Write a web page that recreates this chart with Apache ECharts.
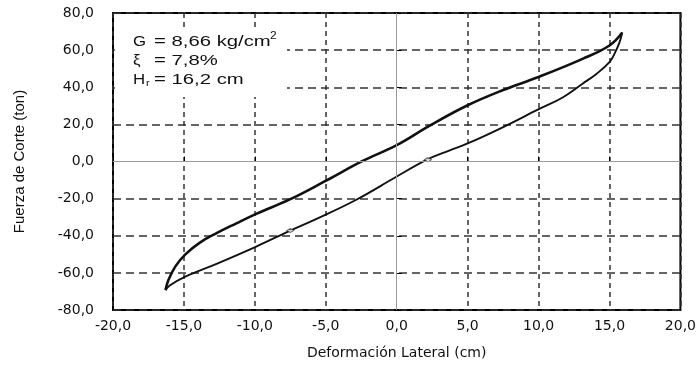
<!DOCTYPE html>
<html>
<head>
<meta charset="utf-8">
<script src="https://cdn.jsdelivr.net/npm/echarts@6/dist/echarts.min.js"></script>
<style>
  html, body { margin: 0; padding: 0; background: #fff; }
  #chart { width: 699px; height: 369px; }
</style>
</head>
<body>
<div id="chart"></div>
<script>
// ramas del lazo de histéresis (cm, ton)
var ramaSupX = [-16.3, -16.1, -15.6, -14.9, -13.9, -12.7, -11.3, -9.9, -7.5, -4.95, -2.4, 0, 2.3, 5.0, 7.5, 9.95, 13.1, 15.0, 15.9];
var ramaSupY = [-69.3, -64.0, -56.5, -50.0, -43.8, -38.6, -33.3, -28.2, -20.3, -10.2, 0.3, 8.8, 19.2, 30.3, 38.5, 45.4, 55.3, 62.5, 69.5];
var ramaInfX = [15.9, 15.7, 15.35, 15.0, 14.1, 13.1, 11.7, 9.95, 7.25, 5.0, 3.7, 2.1, 0, -2.85, -5.65, -7.5, -9.9, -12.7, -14.9, -16.0, -16.3];
var ramaInfY = [69.5, 64.0, 58.0, 53.5, 47.3, 41.9, 34.5, 27.9, 17.6, 9.7, 5.9, 0.9, -8.1, -20.6, -30.9, -37.2, -45.8, -55.1, -62.0, -66.8, -69.3];
// marcadores pequeños
var marcaX = [-7.5, 2.2];
var marcaY = [-37.2, 1.0];

function pares(xs, ys) {
	var out = [];
	for (var i = 0; i < xs.length; i++) {
		out.push([xs[i], ys[i]]);
	}
	return out;
}

function fmt(v) {
	return v.toFixed(1).replace('.', ',');
}

// el 0 se dibuja aparte, en gris continuo
var gridColors = ['#333', '#333', '#333', '#333', 'transparent', '#333', '#333', '#333', '#333'];

function texto(x, y, t, size, sx) {
	return {
		type: 'text', z: 51, x: x, y: y, scaleX: sx,
		style: { text: t, fontFamily: 'Liberation Sans', fontSize: size, fill: '#111', verticalAlign: 'middle' }
	};
}

var myChart = echarts.init(document.getElementById('chart'));
var option = {
	animation: false,
	grid: {
		left: 113, right: 18, top: 13, bottom: 59,
		show: true,
		borderColor: '#000',
		borderWidth: 2
	},
	xAxis: {
		type: 'value',
		min: -20, max: 20, interval: 5,
		name: 'Deformación Lateral (cm)',
		nameLocation: 'middle',
		nameGap: 36,
		nameTextStyle: { fontFamily: 'DejaVu Sans', fontSize: 14, color: '#111' },
		axisLine: { show: false },
		axisTick: { show: true, inside: true, length: 5, lineStyle: { color: '#000' } },
		axisLabel: { formatter: fmt, margin: 9, fontFamily: 'DejaVu Sans', fontSize: 14, color: '#111' },
		splitLine: { show: true, lineStyle: { color: gridColors, width: 1.5, type: [5, 4] } }
	},
	yAxis: {
		type: 'value',
		min: -80, max: 80, interval: 20,
		name: 'Fuerza de Corte (ton)',
		nameLocation: 'middle',
		nameGap: 86,
		nameTextStyle: { fontFamily: 'Liberation Sans', fontSize: 15, color: '#111' },
		axisLine: { show: false },
		axisTick: { show: true, inside: true, length: 5, lineStyle: { color: '#000' } },
		axisLabel: { formatter: fmt, margin: 19, fontFamily: 'DejaVu Sans', fontSize: 14, color: '#111' },
		splitLine: { show: true, lineStyle: { color: gridColors, width: 1.5, type: [8, 5] } }
	},
	graphic: [
		{ type: 'rect', z: 50, shape: { x: 115, y: 29, width: 172, height: 68 }, style: { fill: '#fff' } },
		texto(133, 42, 'G', 14, 1.2),
		texto(154, 42, '= 8,66 kg/cm', 14, 1.45),
		texto(270, 36, '2', 10, 1.2),
		texto(133, 61, 'ξ', 14, 1.2),
		texto(154, 61, '= 7,8%', 14, 1.45),
		texto(133, 80, 'H', 14, 1.2),
		texto(146, 84, 'r', 9, 1.2),
		texto(154, 80, '= 16,2 cm', 14, 1.45)
	],
	series: [
		{
			name: 'rama superior',
			type: 'line',
			data: pares(ramaSupX, ramaSupY),
			smooth: 0.4,
			showSymbol: false,
			lineStyle: { color: '#111', width: 2.6 },
			markLine: {
				silent: true,
				symbol: 'none',
				label: { show: false },
				lineStyle: { color: '#999', width: 1, type: 'solid' },
				data: [{ xAxis: 0 }, { yAxis: 0 }]
			},
			z: 3
		},
		{
			name: 'rama inferior',
			type: 'line',
			data: pares(ramaInfX, ramaInfY),
			smooth: 0.4,
			showSymbol: false,
			lineStyle: { color: '#111', width: 1.9 },
			z: 3
		},
		{
			name: 'marcas',
			type: 'scatter',
			data: pares(marcaX, marcaY),
			symbol: 'diamond',
			symbolSize: [7, 4],
			itemStyle: { color: '#fff', borderColor: '#333', borderWidth: 1 },
			z: 4
		}
	]
};
myChart.setOption(option);
</script>
</body>
</html>
